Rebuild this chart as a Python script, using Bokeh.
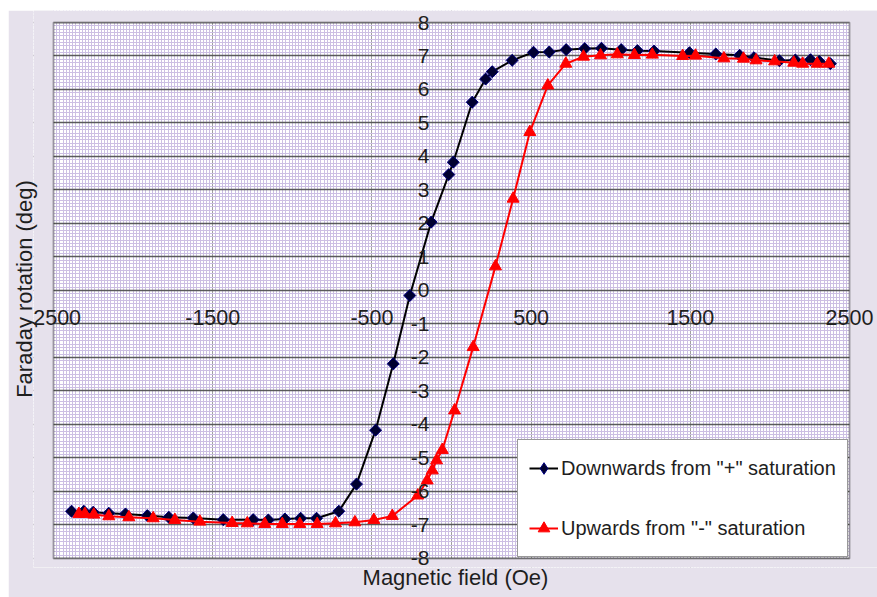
import math
from bokeh.plotting import figure
from bokeh.models import (FixedTicker, SingleIntervalTicker, LinearAxis, Legend, LegendItem,
                          BoxAnnotation, Spacer)
from bokeh.layouts import column, row
from bokeh.embed import file_html
from bokeh.resources import INLINE

# ---- data ----
black_x = [2380, 2310, 2255, 2160, 2060, 1900, 1810, 1660, 1495, 1272, 1168, 1066, 942, 837,
           720, 614, 515, 381, 256, 214, 130, 11, -17, -128, -262, -366, -477, -597, -708,
           -848, -948, -1047, -1151, -1246, -1434, -1622, -1776, -1911, -2048, -2153, -2251,
           -2310, -2387]
black_y = [6.77, 6.84, 6.89, 6.88, 6.86, 6.95, 7.02, 7.06, 7.10, 7.15, 7.16, 7.19, 7.23, 7.22,
           7.19, 7.12, 7.11, 6.87, 6.53, 6.31, 5.62, 3.83, 3.46, 2.04, -0.15, -2.19, -4.17,
           -5.78, -6.59, -6.80, -6.80, -6.82, -6.85, -6.84, -6.84, -6.79, -6.77, -6.72, -6.67,
           -6.65, -6.62, -6.59, -6.59]

red_x = [-2341, -2303, -2247, -2153, -2027, -1874, -1738, -1581, -1378, -1283, -1173, -1063,
         -953, -844, -729, -607, -488, -372, -212, -153, -121, -94, -58, 19, 136, 276, 387,
         492, 605, 718, 829, 936, 1041, 1149, 1261, 1452, 1533, 1711, 1834, 1913, 2030, 2150,
         2206, 2297, 2370]
red_y = [-6.67, -6.67, -6.69, -6.74, -6.77, -6.80, -6.85, -6.90, -6.94, -6.95, -6.97, -6.97,
         -6.97, -6.97, -6.95, -6.92, -6.85, -6.73, -6.12, -5.67, -5.37, -5.07, -4.76, -3.58,
         -1.69, 0.72, 2.74, 4.73, 6.12, 6.77, 6.98, 7.02, 7.05, 7.03, 7.04, 7.00, 7.01, 6.93,
         6.92, 6.87, 6.84, 6.80, 6.77, 6.77, 6.77]

series_labels = ['Downwards from "+" saturation', 'Upwards from "-" saturation']

x_ticks = [-2500, -1500, -500, 500, 1500, 2500]
x_tick_labels = ["-2500", "-1500", "-500", "500", "1500", "2500"]
y_ticks = list(range(-8, 9))
y_tick_labels = [str(v) for v in y_ticks]

x_title = "Magnetic field (Oe)"
y_title = "Faraday rotation (deg)"

# plotted data window and the (slightly larger) frame around it
X_MIN, X_MAX = -2500, 2500
Y_MIN, Y_MAX = -8, 8

FONT = "Liberation Sans"
TXT = "#1e1e1e"
BG = "#e6e1ec"
MINOR = "#ccbfe3"

p = figure(width=869, height=587, x_range=(-2626, 2676), y_range=(-8.269, 8.358),
           output_backend="svg", toolbar_location=None,
           min_border_left=25, min_border_right=0, min_border_top=0, min_border_bottom=30,
           background_fill_color="white", border_fill_color=BG)
p.outline_line_color = None

# grids
p.xgrid.ticker = FixedTicker(ticks=[-1500, -500, 0, 500, 1500],
                             minor_ticks=list(range(X_MIN, X_MAX + 1, 20)))
p.xgrid.grid_line_color = "#a0a0a0"
p.xgrid.grid_line_width = 1
p.xgrid.minor_grid_line_color = MINOR
p.xgrid.minor_grid_line_width = 1
p.ygrid.ticker = SingleIntervalTicker(interval=1, num_minor_ticks=10)
p.ygrid.grid_line_color = "#5a5a5a"
p.ygrid.grid_line_width = 1.3
p.ygrid.minor_grid_line_color = MINOR
p.ygrid.minor_grid_line_width = 1

# mask the frame outside of the data window, then draw the plot-area border
for kw in (dict(right=X_MIN), dict(left=X_MAX), dict(bottom=Y_MAX), dict(top=Y_MIN)):
    p.add_layout(BoxAnnotation(**kw, fill_color=BG, fill_alpha=1, line_color=None,
                               level="underlay"))
p.add_layout(BoxAnnotation(left=X_MIN, right=X_MAX, bottom=Y_MIN, top=Y_MAX,
                           fill_alpha=0, line_color="black", line_width=2, level="underlay"))

# central axes
xa = p.xaxis[0]
xa.fixed_location = 0
xa.ticker = FixedTicker(ticks=x_ticks)
xa.major_label_overrides = {t: l for t, l in zip(x_ticks, x_tick_labels)}
xa.axis_line_color = None
xa.major_tick_line_color = None
xa.minor_tick_line_color = None
xa.major_label_standoff = 14
xa.major_label_text_font = FONT
xa.major_label_text_font_size = "21.5px"
xa.major_label_text_color = TXT

ya = p.yaxis[0]
ya.fixed_location = 0
ya.ticker = FixedTicker(ticks=y_ticks)
ya.major_label_overrides = {t: l for t, l in zip(y_ticks, y_tick_labels)}
ya.axis_line_color = None
ya.major_tick_line_color = None
ya.minor_tick_line_color = None
ya.major_label_standoff = 16
ya.major_label_text_font = FONT
ya.major_label_text_font_size = "21px"
ya.major_label_text_color = TXT

# title axes
def title_axis(label, standoff):
    ax = LinearAxis(axis_label=label, ticker=FixedTicker(ticks=[]))
    ax.axis_line_color = None
    ax.major_tick_line_color = None
    ax.minor_tick_line_color = None
    ax.major_tick_out = 0
    ax.major_label_standoff = 0
    ax.axis_label_standoff = standoff
    ax.axis_label_text_font = FONT
    ax.axis_label_text_font_size = "22px"
    ax.axis_label_text_font_style = "normal"
    ax.axis_label_text_color = TXT
    return ax

p.add_layout(title_axis(x_title, -3), "below")
p.add_layout(title_axis(y_title, -3), "left")

# series
# legend key for the black series: a diamond hidden beneath the rotated squares
s1_key = p.scatter(black_x, black_y, marker="diamond", size=11,
                   fill_color="#000030", line_color="#000080", line_width=1)
l1 = p.line(black_x, black_y, line_color="black", line_width=2)
s1 = p.scatter(black_x, black_y, marker="square", angle=math.pi / 4, size=8.5,
               fill_color="#000030", line_color="#000080", line_width=1)
l2 = p.line(red_x, red_y, line_color="#ff0000", line_width=2)
s2 = p.scatter(red_x, red_y, marker="triangle", size=12,
               fill_color="#ff0000", line_color="#ff0000", line_width=1)

legend = Legend(items=[LegendItem(label=series_labels[0], renderers=[l1, s1_key]),
                       LegendItem(label=series_labels[1], renderers=[l2, s2])],
                location=(484, 10), margin=0, padding=11, spacing=26,
                label_height=34, glyph_height=34, glyph_width=29, label_standoff=3,
                label_text_font=FONT, label_text_font_size="20px", label_text_color=TXT,
                border_line_color="#333333", border_line_width=1,
                background_fill_color="white", background_fill_alpha=1)
p.add_layout(legend, "center")

page = column(Spacer(width=877, height=10),
              row(Spacer(width=8, height=587), p))

open("out.html", "w").write(file_html(page, INLINE))
